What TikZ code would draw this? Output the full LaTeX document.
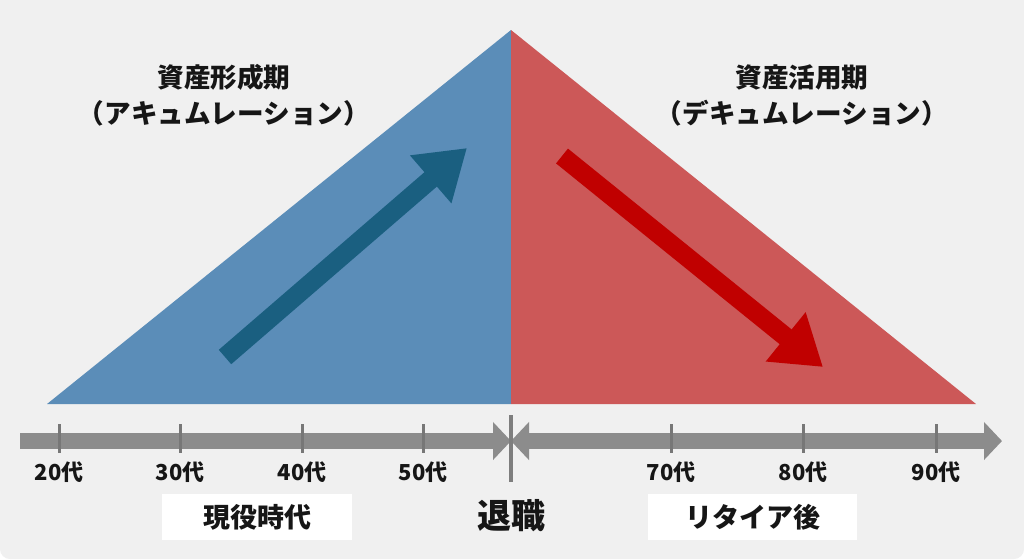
\documentclass[tikz,border=0pt]{standalone}
\usepackage{fontspec}
\newfontfamily\jpfont{Noto Sans CJK JP}
\usepackage{xcolor}
\usetikzlibrary{arrows.meta}

\definecolor{bgGray}{HTML}{F0F0F0}
\definecolor{accBlue}{HTML}{5B8DB8}
\definecolor{decRed}{HTML}{CC5858}
\definecolor{upBlue}{HTML}{1A5F80}
\definecolor{downRed}{HTML}{C00000}
\definecolor{axisGray}{HTML}{8C8C8C}
\definecolor{inkBlack}{HTML}{161616}

\begin{document}
\begin{tikzpicture}[x=0.5pt,y=-0.5pt,
    every node/.style={font=\jpfont\bfseries, text=inkBlack, inner sep=0pt},
    title/.style={align=center, font=\jpfont\bfseries\fontsize{13.3}{18}\selectfont},
    age/.style={font=\jpfont\bfseries\fontsize{11}{12}\selectfont},
    phase/.style={fill=white, minimum height=23pt, font=\jpfont\bfseries\fontsize{13.5}{16}\selectfont},
    trend/.style={line width=9.5pt, -{Triangle[length=24pt,width=30pt]}},
    axis/.style={line width=8pt, axisGray},
    tick/.style={line width=1.5pt, axisGray!85!black}]
    % Setup
    \useasboundingbox (0,0) rectangle (1024,559);
    \fill[white] (0,0) rectangle (1024,559);
    \fill[bgGray, rounded corners=5pt] (0,-20) rectangle (1024,559);

    % Triangles
    \coordinate (apex) at (511,30);
    \coordinate (baseL) at (47,404);
    \coordinate (baseM) at (511,404);
    \coordinate (baseR) at (976,404);
    \fill[accBlue] (baseL) -- (apex) -- (baseM) -- cycle;
    \fill[decRed] (baseM) -- (apex) -- (baseR) -- cycle;

    % Trend arrows
    \coordinate (upS) at (225,357);
    \coordinate (upE) at (467,148);
    \coordinate (downS) at (562,156);
    \coordinate (downE) at (823,367);
    \draw[trend, upBlue] (upS) -- (upE);
    \draw[trend, downRed] (downS) -- (downE);

    % Phase titles
    \node[title] (accum) at (224,95) {資産形成期\\（アキュムレーション）};
    \node[title] (decum) at (802,95) {資産活用期\\（デキュムレーション）};

    % Time axis
    \coordinate (axL) at (20,441);
    \coordinate (axM) at (511,441);
    \coordinate (axR) at (1002,441);
    \draw[axis, -{Triangle[length=9pt,width=18.5pt]}] (axL) -- (axM);
    \draw[axis, {Triangle[length=9pt,width=18.5pt]}-{Triangle[length=9pt,width=18.5pt]}] (axM) -- (axR);
    \draw[line width=2pt, axisGray!90!black] (511,415) -- (511,482);

    % Ticks and ages
    \foreach \x/\a in {59/20, 180/30, 302/40, 423/50, 671/70, 803/80, 936/90} {
        \draw[tick] (\x,424) -- (\x,453);
        \node[age] (age\a) at (\x,472) {\a 代};
    }

    % Phase labels
    \node[phase, minimum width=95pt] (working) at (257,517) {現役時代};
    \node[font=\jpfont\bfseries\fontsize{17}{20}\selectfont] (retire) at (511,516) {退職};
    \node[phase, minimum width=104.5pt] (after) at (752.5,517) {リタイア後};
\end{tikzpicture}
\end{document}
